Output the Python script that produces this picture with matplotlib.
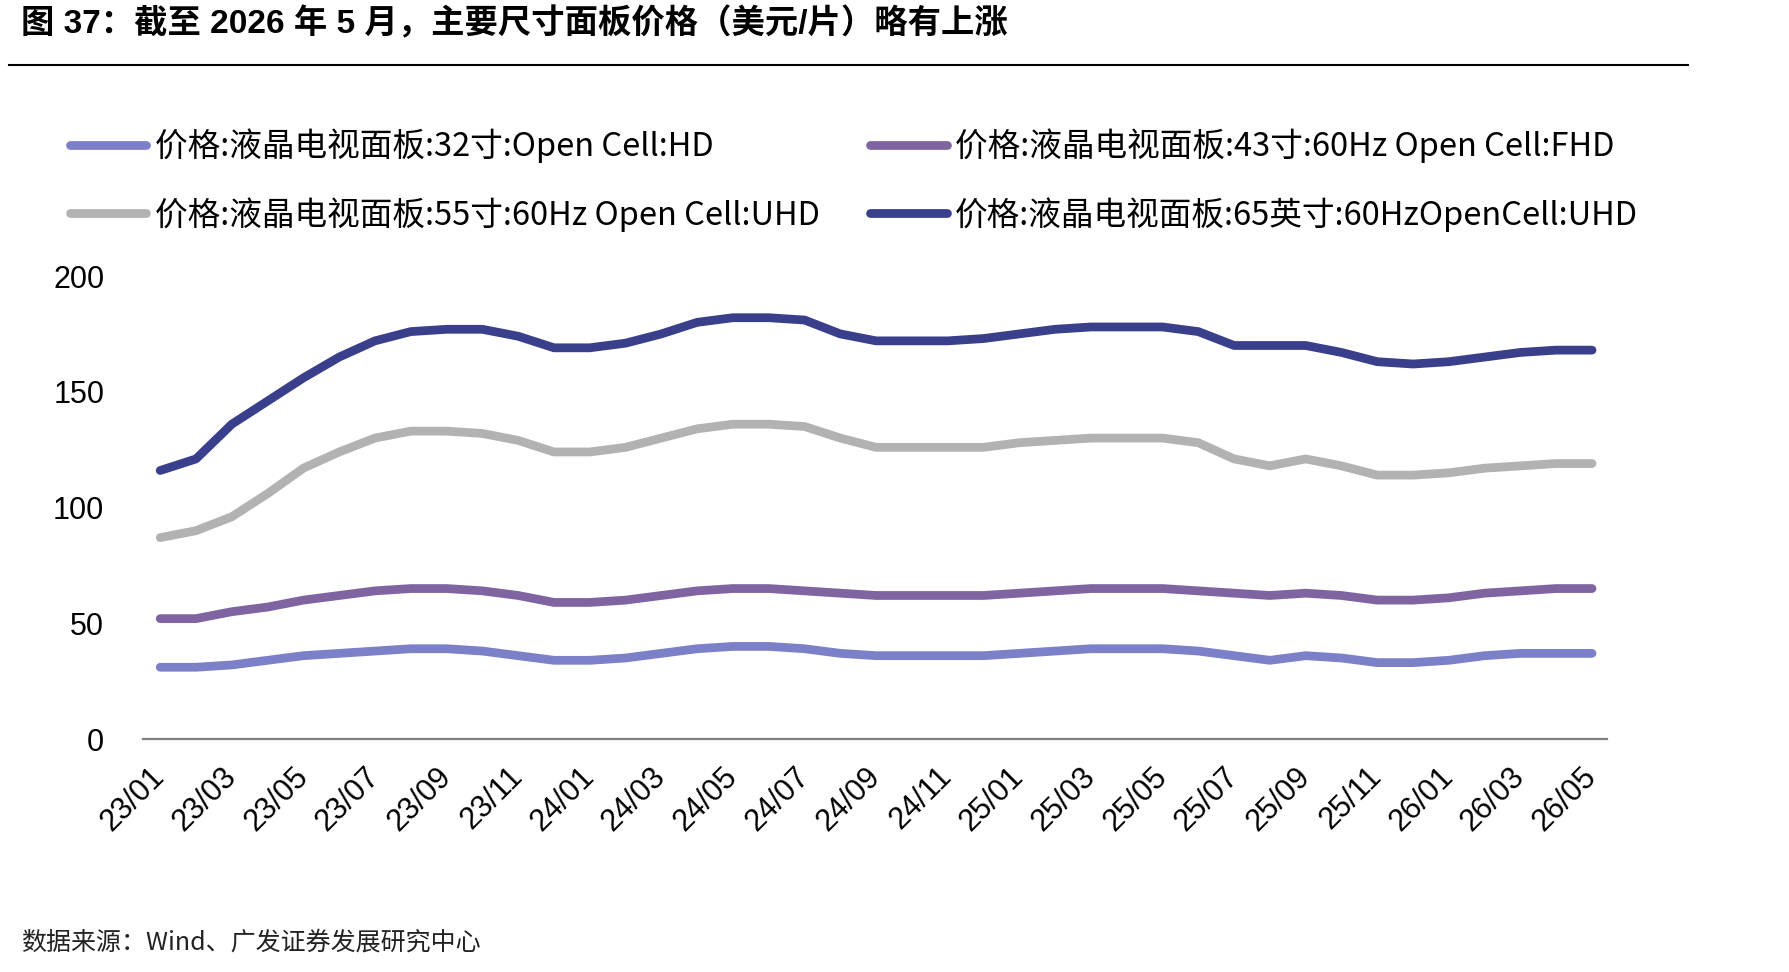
import matplotlib.pyplot as plt
from matplotlib.lines import Line2D

plt.rcParams['font.family'] = ['Liberation Sans', 'Noto Sans CJK SC', 'DejaVu Sans']

# monthly labels 23/01 .. 26/05
months = ['23/01', '23/02', '23/03', '23/04', '23/05', '23/06', '23/07', '23/08',
          '23/09', '23/10', '23/11', '23/12', '24/01', '24/02', '24/03', '24/04',
          '24/05', '24/06', '24/07', '24/08', '24/09', '24/10', '24/11', '24/12',
          '25/01', '25/02', '25/03', '25/04', '25/05', '25/06', '25/07', '25/08',
          '25/09', '25/10', '25/11', '25/12', '26/01', '26/02', '26/03', '26/04',
          '26/05']

p32 = [31, 31, 32, 34, 36, 37, 38, 39, 39, 38, 36, 34, 34, 35, 37, 39,
       40, 40, 39, 37, 36, 36, 36, 36, 37, 38, 39, 39, 39, 38, 36, 34,
       36, 35, 33, 33, 34, 36, 37, 37, 37]
p43 = [52, 52, 55, 57, 60, 62, 64, 65, 65, 64, 62, 59, 59, 60, 62, 64,
       65, 65, 64, 63, 62, 62, 62, 62, 63, 64, 65, 65, 65, 64, 63, 62,
       63, 62, 60, 60, 61, 63, 64, 65, 65]
p55 = [87, 90, 96, 106, 117, 124, 130, 133, 133, 132, 129, 124, 124, 126, 130, 134,
       136, 136, 135, 130, 126, 126, 126, 126, 128, 129, 130, 130, 130, 128, 121, 118,
       121, 118, 114, 114, 115, 117, 118, 119, 119]
p65 = [116, 121, 136, 146, 156, 165, 172, 176, 177, 177, 174, 169, 169, 171, 175, 180,
       182, 182, 181, 175, 172, 172, 172, 173, 175, 177, 178, 178, 178, 176, 170, 170,
       170, 167, 163, 162, 163, 165, 167, 168, 168]

labels = ['价格:液晶电视面板:32寸:Open Cell:HD',
          '价格:液晶电视面板:43寸:60Hz Open Cell:FHD',
          '价格:液晶电视面板:55寸:60Hz Open Cell:UHD',
          '价格:液晶电视面板:65英寸:60HzOpenCell:UHD']
colors = ['#7b80c9', '#8064a2', '#b2b2b2', '#393f8b']

fig = plt.figure(figsize=(17.9, 9.72), dpi=100)
ax = fig.add_axes([0.0799, 0.2397, 0.8179, 0.4763])

x = range(len(months))
series = [p32, p43, p55, p65]
handles = []
for vals, c, lab in zip(series, colors, labels):
    ax.plot(x, vals, color=c, lw=6.3, solid_capstyle='round', solid_joinstyle='round')
    handles.append(Line2D([], [], color=c, lw=6.3, solid_capstyle='round', label=lab))

ax.set_ylim(0, 200)
ax.set_xlim(-0.48, 40.42)
ax.set_yticks([0, 50, 100, 150, 200])
ax.set_xticks(list(x)[::2])
ax.set_xticklabels(months[::2], rotation=45, ha='right', va='center',
                   rotation_mode='anchor')
ax.tick_params(axis='both', length=0, labelsize=22, colors='black')
ax.tick_params(axis='x', pad=24)
ax.tick_params(axis='y', pad=28)
for s in ['top', 'right', 'left']:
    ax.spines[s].set_visible(False)
ax.spines['bottom'].set_color('#808080')
ax.spines['bottom'].set_linewidth(1.6)

# legend: column-wise order -> 32, 55 | 43, 65
order = [0, 2, 1, 3]
fig.legend([handles[i] for i in order], [labels[i] for i in order],
           ncol=2, loc='upper left', bbox_to_anchor=(0.0225, 0.898),
           frameon=False, handlelength=2.35, handletextpad=0.25,
           columnspacing=1.55, labelspacing=1.03,
           prop={'family': ['Noto Sans CJK SC'], 'size': 23.5})

fig.text(0.012, 0.976, '图 37：截至 2026 年 5 月，主要尺寸面板价格（美元/片）略有上涨',
         fontsize=24, fontweight='bold', va='center', ha='left',
         family=['Liberation Sans', 'Noto Sans CJK SC'])
fig.add_artist(Line2D([0.005, 0.943], [0.933, 0.933], color='black', lw=1.5))

fig.text(0.012, 0.030, '数据来源：Wind、广发证券发展研究中心', fontsize=18,
         va='center', ha='left', color='#222222',
         family=['Noto Sans CJK SC'])

fig.savefig('out.png', dpi=100)
